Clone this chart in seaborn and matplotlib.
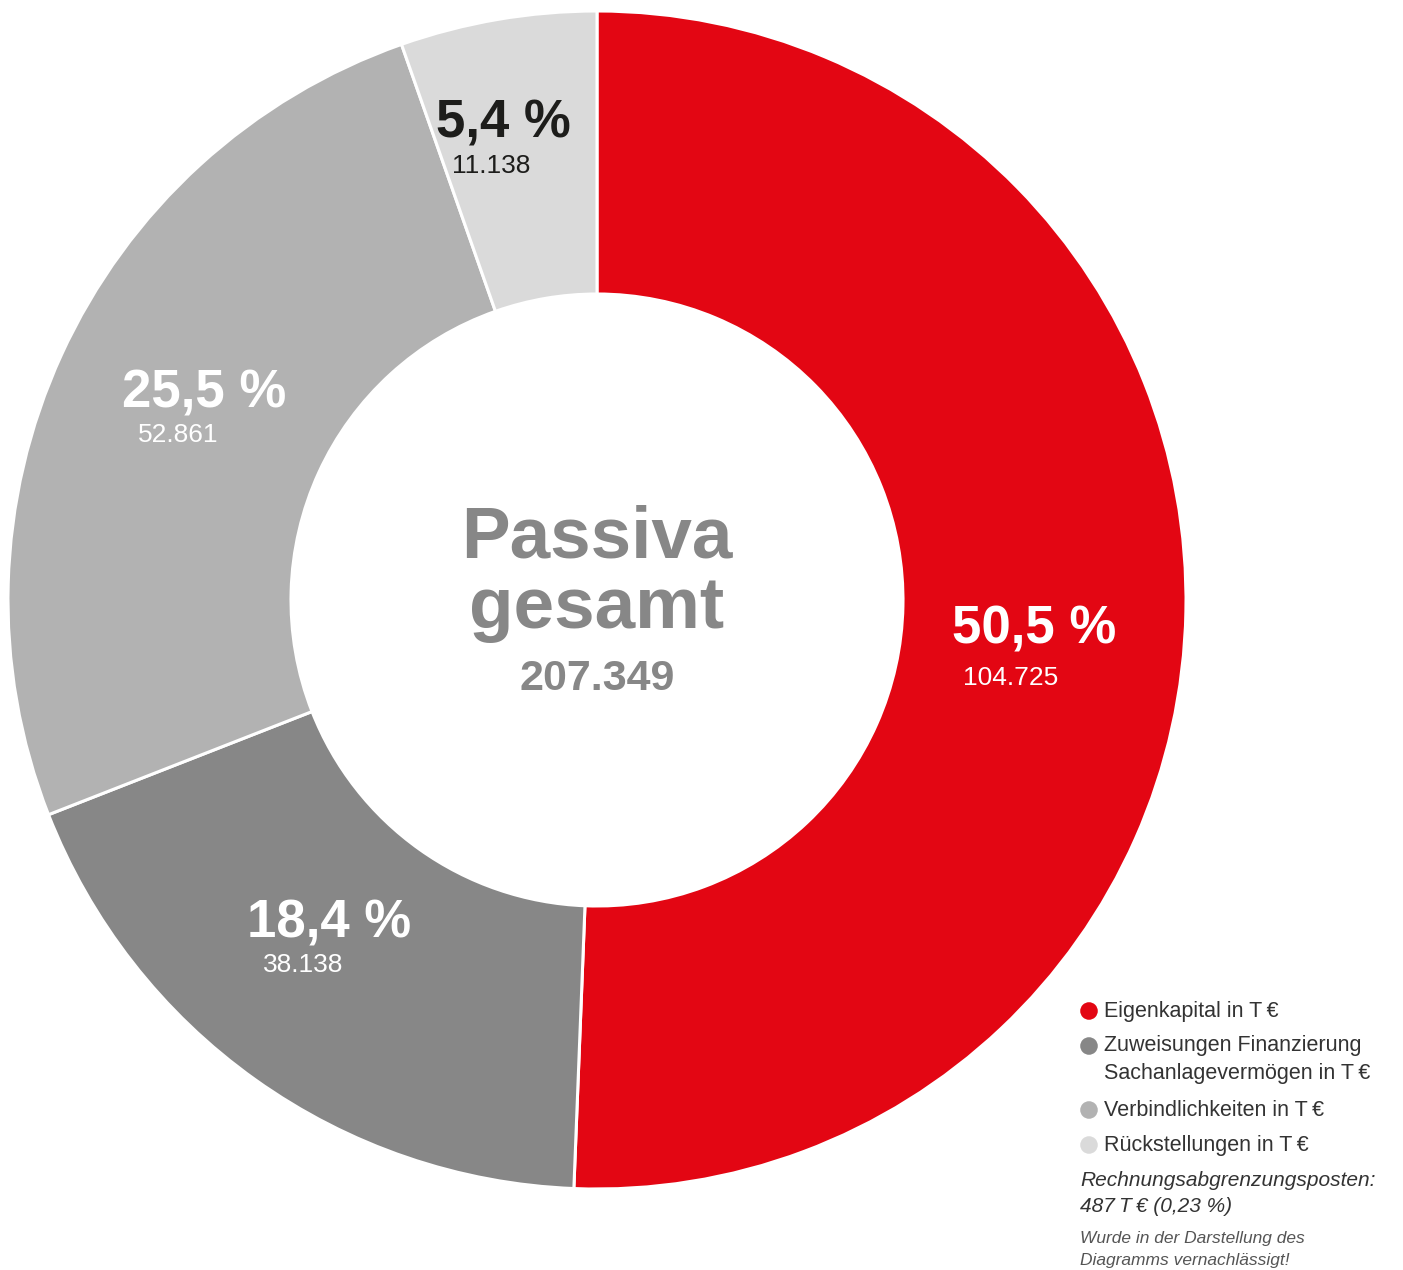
import matplotlib
matplotlib.use("Agg")
import matplotlib.pyplot as plt
import seaborn as sns

# data
categories = ["Eigenkapital", "Zuweisungen Finanzierung Sachanlagevermögen",
              "Verbindlichkeiten", "Rückstellungen"]
values = [104725, 38138, 52861, 11138]
percents = ["50,5 %", "18,4 %", "25,5 %", "5,4 %"]
amounts = ["104.725", "38.138", "52.861", "11.138"]
legend_labels = [["Eigenkapital in T\u2009€"],
                 ["Zuweisungen Finanzierung", "Sachanlagevermögen in T\u2009€"],
                 ["Verbindlichkeiten in T\u2009€"],
                 ["Rückstellungen in T\u2009€"]]
center_title = ["Passiva", "gesamt"]
total_label = "207.349"
note_1 = ["Rechnungsabgrenzungsposten:", "487\u2009T\u2009€ (0,23 %)"]
note_2 = ["Wurde in der Darstellung des", "Diagramms vernachlässigt!"]

colors = sns.color_palette(["#E30613", "#878787", "#B2B2B2", "#DADADA"])
label_colors = ["white", "white", "white", "#1D1D1B"]

sns.set_theme(style="white")
plt.rcParams["font.family"] = ["Liberation Sans", "DejaVu Sans"]

W, H = 1403, 1270
fig = plt.figure(figsize=(W / 100, H / 100), dpi=100)
ax = fig.add_axes([0, 0, 1, 1])


def py(y):
    # pixel row -> data y
    return H - y


cx, cy, r_out, r_in = 597, 600, 589, 306
ax.pie(values, colors=colors, startangle=90, counterclock=False,
       center=(cx, py(cy)), radius=r_out,
       wedgeprops=dict(width=r_out - r_in, edgecolor="white", linewidth=2.2))
ax.set_xlim(0, W)
ax.set_ylim(0, H)
ax.set_aspect("equal")
ax.axis("off")

# segment labels (left edge of percent, left edge of amount, rows)
label_pos = [(952, 963, 629, 678), (247, 263, 924, 965),
             (122, 138, 394, 435), (436, 452, 124, 166)]
for pct, amt, col, (xp, xa, yp, ya) in zip(percents, amounts, label_colors, label_pos):
    ax.text(xp, py(yp), pct, ha="left", va="center", fontsize=38,
            fontweight="bold", color=col)
    ax.text(xa, py(ya), amt, ha="left", va="center", fontsize=19, color=col)

# centre text
for line, yb in zip(center_title, [558, 628]):
    ax.text(cx, py(yb), line, ha="center", va="baseline", fontsize=52.5,
            fontweight="bold", color="#878787")
ax.text(cx, py(690), total_label, ha="center", va="baseline", fontsize=31,
        fontweight="bold", color="#878787")

# legend
legend_rows = [1011, 1046, 1110, 1145]
for lines, col, yr in zip(legend_labels, colors, legend_rows):
    ax.scatter([1089], [py(yr)], s=160, color=col, edgecolor="none")
    for i, line in enumerate(lines):
        ax.text(1104, py(yr + 27 * i), line, ha="left", va="center",
                fontsize=15.5, color="#333333")

for i, line in enumerate(note_1):
    ax.text(1080, py(1181 + 25 * i), line, ha="left", va="center",
            fontsize=15, style="italic", color="#333333")
for i, line in enumerate(note_2):
    ax.text(1080, py(1238 + 23 * i), line, ha="left", va="center",
            fontsize=12.5, style="italic", color="#555555")

fig.savefig("out.png", dpi=100)
